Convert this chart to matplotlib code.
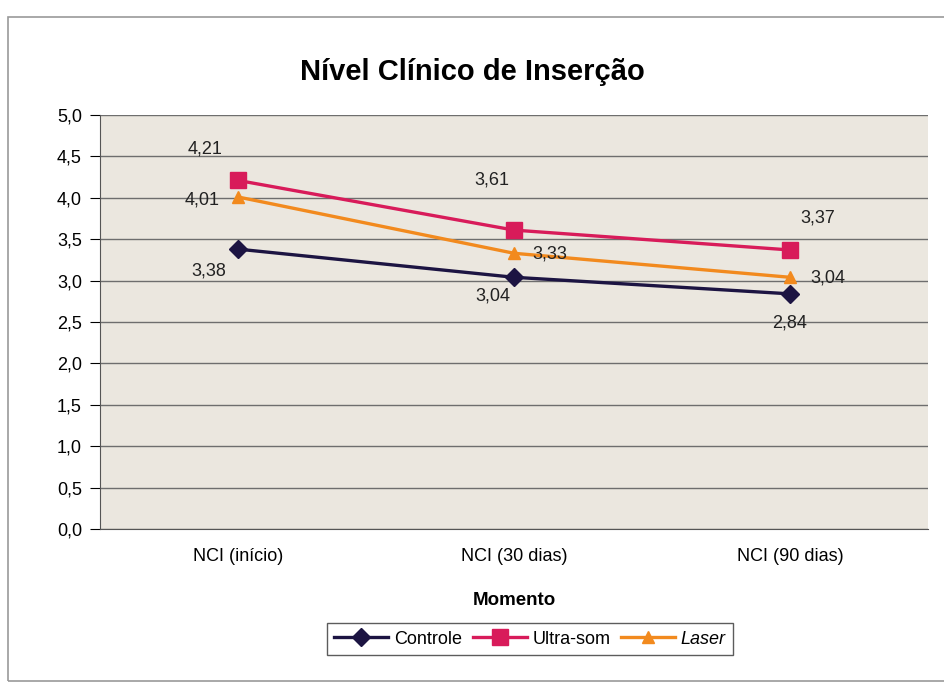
import matplotlib.pyplot as plt
import matplotlib.patches as mpatches

plt.rcParams['font.family'] = ['Liberation Sans', 'DejaVu Sans']

categorias = ['NCI (início)', 'NCI (30 dias)', 'NCI (90 dias)']
controle = [3.38, 3.04, 2.84]
ultra_som = [4.21, 3.61, 3.37]
laser = [4.01, 3.33, 3.04]
yticks = [0.0, 0.5, 1.0, 1.5, 2.0, 2.5, 3.0, 3.5, 4.0, 4.5, 5.0]

# label offsets in pixels, per point
off_controle = [(-29, -22), (-21, -19), (0, -29)]
off_ultra = [(-33, 31), (-22, 50), (28, 32)]
off_laser = [(-36, -3), (36, -1), (38, -1)]

fig = plt.figure(figsize=(9.45, 6.91), dpi=100)
fig.patches.append(mpatches.Rectangle((8 / 945, 0.015), 1.0, 1 - 17 / 691 - 0.015,
                                      transform=fig.transFigure, fill=False,
                                      edgecolor='#9a9a9a', linewidth=1.2))
ax = fig.add_axes([100 / 945, 1 - 529 / 691, 828 / 945, 414 / 691])
ax.set_facecolor('#ebe7df')

x = list(range(len(categorias)))
series = [
    ('Controle', controle, '#1c1442', 'D', 9, off_controle),
    ('Ultra-som', ultra_som, '#d81b5a', 's', 11, off_ultra),
    ('Laser', laser, '#f28a1e', '^', 8, off_laser),
]
for nome, vals, cor, mk, ms, offs in series:
    ax.plot(x, vals, color=cor, marker=mk, markersize=ms, linewidth=2.4, label=nome, zorder=3)
    for xi, v, off in zip(x, vals, offs):
        ax.annotate(f'{v:.2f}'.replace('.', ','), (xi, v), xytext=off,
                    textcoords='offset pixels', ha='center', va='center',
                    fontsize=13, color='#222222', zorder=4)

ax.set_xlim(-0.5, 2.5)
ax.set_ylim(0, 5)
ax.set_yticks(yticks)
ax.set_yticklabels([f'{t:.1f}'.replace('.', ',') for t in yticks], fontsize=13)
ax.set_xticks(x)
ax.set_xticklabels(categorias, fontsize=13)
ax.tick_params(axis='x', length=0, pad=14)
ax.tick_params(axis='y', length=7, direction='out', pad=6)
ax.yaxis.grid(True, color='#6e6e6e', linewidth=1.0)
ax.set_axisbelow(True)
for s in ['top', 'right']:
    ax.spines[s].set_visible(False)
ax.spines['left'].set_color('#555555')
ax.spines['bottom'].set_color('#555555')

ax.set_xlabel('Momento', fontsize=13.5, fontweight='bold', labelpad=19)
fig.text(0.5, 1 - 72 / 691, 'Nível Clínico de Inserção', ha='center', va='center',
         fontsize=21, fontweight='bold')

leg = fig.legend(loc='center', bbox_to_anchor=(530 / 945, 1 - 639 / 691), ncol=3,
                 frameon=True, fancybox=False, fontsize=13, handlelength=3,
                 columnspacing=0.6, handletextpad=0.3, borderpad=0.4)
leg.get_frame().set_edgecolor('#333333')
leg.get_frame().set_linewidth(1.0)
leg.get_texts()[2].set_style('italic')

fig.savefig('out.png', dpi=100)
